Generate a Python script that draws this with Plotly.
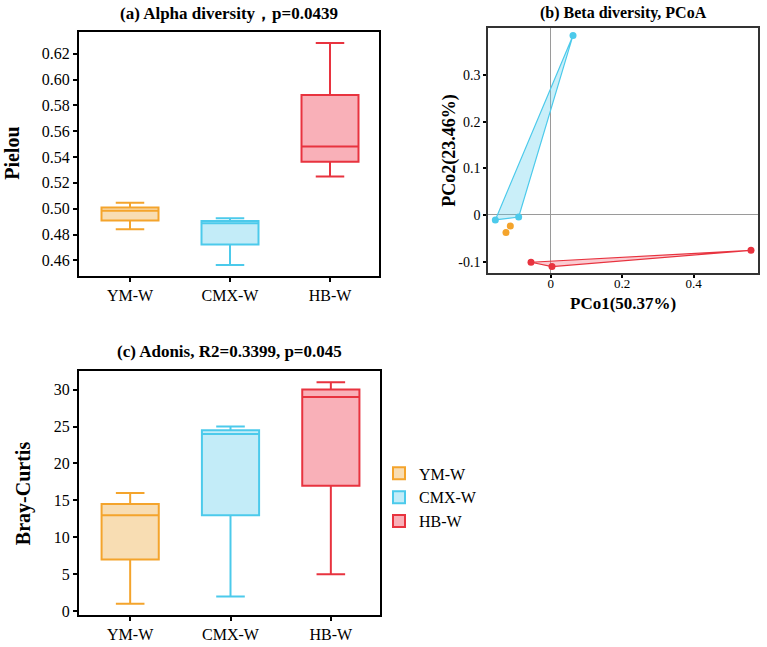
import plotly.graph_objects as go

# ---------------- data ----------------
categories = ["YM-W", "CMX-W", "HB-W"]

# (a) Pielou box statistics
pielou_lower = [0.4841, 0.4564, 0.5249]
pielou_q1 = [0.4908, 0.4723, 0.5364]
pielou_median = [0.4985, 0.4887, 0.5482]
pielou_q3 = [0.5010, 0.4905, 0.5880]
pielou_upper = [0.5046, 0.4926, 0.6282]

# (c) Bray-Curtis box statistics
bray_lower = [1.0, 2.0, 5.0]
bray_q1 = [7.0, 13.0, 17.0]
bray_median = [13.0, 24.0, 29.0]
bray_q3 = [14.5, 24.5, 30.0]
bray_upper = [16.0, 25.0, 31.0]

# (b) PCoA coordinates
ym_pc1 = [-0.1128, -0.1250]
ym_pc2 = [-0.0234, -0.0376]
cmx_pc1 = [0.0625, -0.1548, -0.0895]
cmx_pc2 = [0.3850, -0.0106, -0.0043]
hb_pc1 = [0.5604, -0.0550, 0.0037]
hb_pc2 = [-0.0759, -0.1014, -0.1106]

pielou_ticks = [0.46, 0.48, 0.50, 0.52, 0.54, 0.56, 0.58, 0.60, 0.62]
bray_ticks = [0, 5, 10, 15, 20, 25, 30]
pc1_tickvals = [0, 0.2, 0.4]
pc1_ticktext = ["0", "0.2", "0.4"]
pc2_tickvals = [-0.1, 0, 0.1, 0.2, 0.3]
pc2_ticktext = ["-0.1", "0", "0.1", "0.2", "0.3"]

# ---------------- styles ----------------
line_colors = ["#F4A42C", "#4CCAEB", "#E8333F"]
fill_colors = ["#F8DDB3", "#C3ECF8", "#F9B0B8"]
hull_fills = ["rgba(245,165,45,0.3)", "rgba(90,205,235,0.32)", "rgba(240,110,125,0.35)"]
FONT = "Liberation Serif"
W, H = 767, 647

fig = go.Figure()

for i, c in enumerate(categories):
    fig.add_trace(go.Box(
        x=[c], q1=[pielou_q1[i]], median=[pielou_median[i]], q3=[pielou_q3[i]],
        lowerfence=[pielou_lower[i]], upperfence=[pielou_upper[i]],
        name=c, legendgroup=c, showlegend=False,
        line=dict(color=line_colors[i], width=2), fillcolor=fill_colors[i],
        width=0.57, whiskerwidth=0.5, boxpoints=False,
        xaxis="x", yaxis="y"))

for i, c in enumerate(categories):
    fig.add_trace(go.Box(
        x=[c], q1=[bray_q1[i]], median=[bray_median[i]], q3=[bray_q3[i]],
        lowerfence=[bray_lower[i]], upperfence=[bray_upper[i]],
        name=c, legendgroup=c, showlegend=True,
        line=dict(color=line_colors[i], width=2), fillcolor=fill_colors[i],
        width=0.57, whiskerwidth=0.5, boxpoints=False,
        xaxis="x3", yaxis="y3"))

# PCoA hulls and points
groups = [(ym_pc1, ym_pc2), (cmx_pc1, cmx_pc2), (hb_pc1, hb_pc2)]
for i, (px, py) in enumerate(groups):
    if len(px) >= 3:
        fig.add_trace(go.Scatter(
            x=px + [px[0]], y=py + [py[0]], mode="lines", fill="toself",
            fillcolor=hull_fills[i], line=dict(color=line_colors[i], width=1.2),
            showlegend=False, hoverinfo="skip", xaxis="x2", yaxis="y2"))
    fig.add_trace(go.Scatter(
        x=px, y=py, mode="markers",
        marker=dict(color=line_colors[i], size=7),
        showlegend=False, name=categories[i], xaxis="x2", yaxis="y2"))

def px_x(v):
    return v / W

def px_y(v):
    return 1 - v / H

tickfont = dict(family=FONT, size=16, color="black")
frame = dict(showline=True, mirror=True, linecolor="black", linewidth=2,
             ticks="outside", ticklen=4, tickwidth=1.5, tickcolor="black",
             showgrid=False, zeroline=False, tickfont=tickfont)
frame_b = {**frame, "zeroline": True, "zerolinecolor": "#9a9a9a", "zerolinewidth": 1,
           "linecolor": "#333333", "linewidth": 1.5, "ticklen": 3,
           "tickfont": dict(family=FONT, size=14, color="black")}

fig.update_layout(
    width=W, height=H, margin=dict(l=0, r=0, t=0, b=0),
    paper_bgcolor="white", plot_bgcolor="white",
    boxmode="overlay",
    xaxis=dict(domain=[px_x(79), px_x(379)], anchor="y", type="category",
               categoryorder="array", categoryarray=categories,
               range=[-0.51, 2.49], **frame),
    yaxis=dict(domain=[px_y(278), px_y(32)], anchor="x",
               range=[0.448, 0.637], tickvals=pielou_ticks, tickformat=".2f", **frame),
    xaxis2=dict(domain=[px_x(488), px_x(758)], anchor="y2",
                range=[-0.1753, 0.58], tickvals=pc1_tickvals, ticktext=pc1_ticktext,
                ticklabelstandoff=-6, **{**frame_b, "tickfont": dict(family=FONT, size=13, color="black")}),
    yaxis2=dict(domain=[px_y(275.3), px_y(28)], anchor="x2",
                range=[-0.1248, 0.4014], tickvals=pc2_tickvals, ticktext=pc2_ticktext, **frame_b),
    xaxis3=dict(domain=[px_x(79), px_x(380)], anchor="y3", type="category",
                categoryorder="array", categoryarray=categories,
                range=[-0.51, 2.49], **frame),
    yaxis3=dict(domain=[px_y(620), px_y(374.3)], anchor="x3",
                range=[-0.54, 32.46], tickvals=bray_ticks, **frame),
    legend=dict(x=px_x(379), y=px_y(460), xanchor="left", yanchor="top",
                font=dict(family=FONT, size=16, color="black"),
                bgcolor="rgba(0,0,0,0)", itemwidth=30, tracegroupgap=0),
    showlegend=True,
)

def ann(text, x, y, size, angle=0):
    fig.add_annotation(text=text, x=px_x(x), y=px_y(y), xref="paper", yref="paper",
                       showarrow=False, textangle=angle, xanchor="center", yanchor="middle",
                       font=dict(family=FONT, size=size, color="black"))

ann("<b>(a) Alpha diversity，p=0.0439</b>", 229, 14, 17)
ann("<b>(b) Beta diversity, PCoA</b>", 623, 13, 16)
ann("<b>(c) Adonis, R2=0.3399, p=0.045</b>", 229, 354, 17)
ann("<b>Pielou</b>", 12, 155, 20, -90)
ann("<b>Bray-Curtis</b>", 23, 497, 20, -90)
ann("<b>PCo2(23.46%)</b>", 450, 152, 18, -90)
ann("<b>PCo1(50.37%)</b>", 623, 306, 17)

fig.write_html("out.html")
